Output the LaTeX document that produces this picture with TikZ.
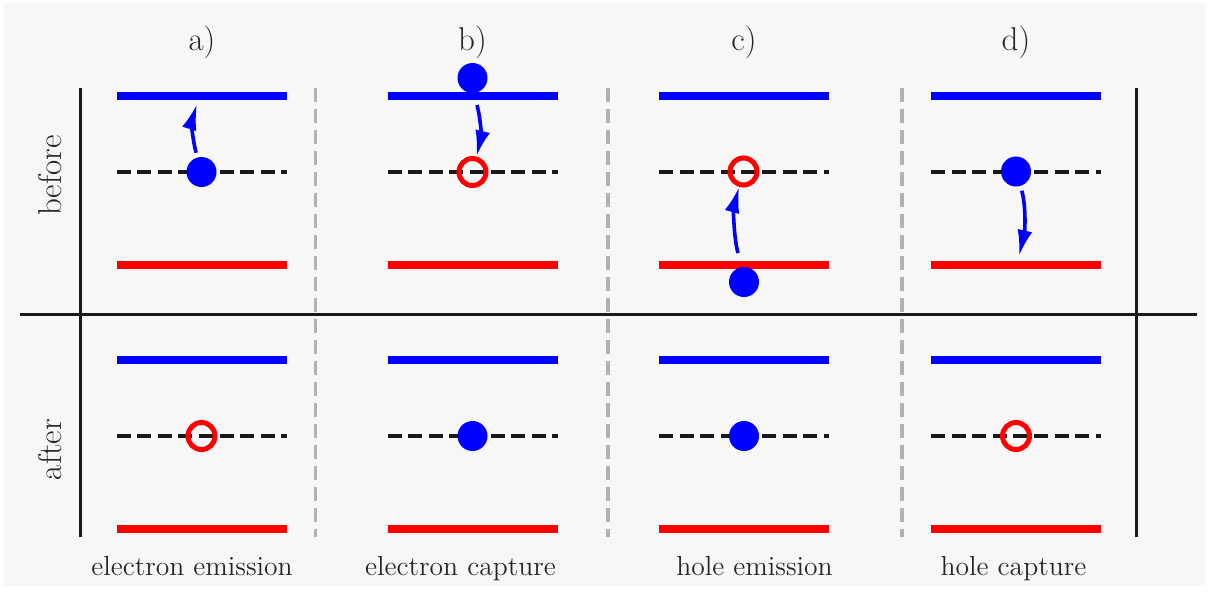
\documentclass[tikz,border=0pt]{standalone}
\usetikzlibrary{arrows.meta}
\definecolor{paper}{RGB}{247,247,247}

\begin{document}
\begin{tikzpicture}[
  x=0.5pt, y=-0.5pt,
  big/.style={font=\fontsize{16.5}{20}\selectfont, text=black!85},
  small/.style={font=\fontsize{13.8}{16}\selectfont, text=black!85},
  cband/.style={draw=blue, line width=4pt},
  vband/.style={draw=red, line width=3.7pt},
  trap/.style={draw=black!90, line width=2.2pt, dash pattern=on 7pt off 3.3pt},
  elec/.style={circle, fill=blue, minimum size=15pt, inner sep=0pt, outer sep=0pt},
  hole/.style={circle, draw=red, line width=2.5pt, minimum size=13.5pt, inner sep=0pt},
  hop/.style={-{Latex[length=13pt, width=7.5pt]}, draw=blue, line width=1.8pt},
  axis/.style={draw=black!90, line width=1.5pt},
  sep/.style={draw=black!30, line width=1.75pt, dash pattern=on 7pt off 3.5pt}
]
  \useasboundingbox (0,0) rectangle (1209,596);
  \fill[paper] (4,3) rectangle (1206,586);

  % frame
  \draw[axis] (20,314) -- (1197,314);
  \draw[axis] (80,88) -- (80,537);
  \draw[axis] (1136,88) -- (1136,537);
  \draw[sep] (315.5,88) -- (315.5,537);
  \draw[sep] (608,88) -- (608,537);
  \draw[sep] (902,88) -- (902,537);

  % levels
  \foreach \cx in {201.5,472.5,744,1016} {
    \foreach \dy in {0,264} {
      \draw[cband] ({\cx-85},{96+\dy}) -- ({\cx+85},{96+\dy});
      \draw[trap] ({\cx-85},{172+\dy}) -- ({\cx+85},{172+\dy});
      \draw[vband] ({\cx-85},{265+\dy}) -- ({\cx+85},{265+\dy});
    }
  }

  \node[big, anchor=base] (lab-a) at (202,50) {a)};
  \node[big, anchor=base] (lab-b) at (472.5,50) {b)};
  \node[big, anchor=base] (lab-c) at (744,50) {c)};
  \node[big, anchor=base] (lab-d) at (1016,50) {d)};
  \node[big, rotate=90, anchor=base] (row-before) at (61,175.5) {before};
  \node[big, rotate=90, anchor=base] (row-after) at (61,449.5) {after};

  \node[small, anchor=base] (cap-a) at (192,575) {electron emission};
  \node[small, anchor=base] (cap-b) at (460.5,575) {electron capture};
  \node[small, anchor=base] (cap-c) at (754.5,575) {hole emission};
  \node[small, anchor=base] (cap-d) at (1013.5,575) {hole capture};

  % before
  \node[elec] (a-e) at (201.5,172) {};
  \node[elec] (b-e) at (472.5,78) {};
  \node[hole] (b-h) at (472.5,172) {};
  \node[hole] (c-h) at (743.5,171.5) {};
  \node[elec] (c-e) at (744,282) {};
  \node[elec] (d-e) at (1016,171.5) {};

  % after
  \node[hole] (a-h2) at (201.5,436) {};
  \node[elec] (b-e2) at (472.5,436) {};
  \node[elec] (c-e2) at (744,436) {};
  \node[hole] (d-h2) at (1016,436) {};

  % transitions
  \coordinate (a-to) at (197,104);
  \coordinate (b-from) at (477,105);
  \coordinate (c-from) at (738,253);
  \coordinate (d-to) at (1019,256);
  \draw[hop, shorten <=2.5pt] (a-e) .. controls (192,138) and (192,120) .. (a-to);
  \draw[hop] (b-from) .. controls (481,120) and (481,138) .. (b-h);
  \draw[hop] (c-from) .. controls (733,235) and (734,205) .. (c-h);
  \draw[hop, shorten <=2.5pt] (d-e) .. controls (1026,205) and (1025,230) .. (d-to);
\end{tikzpicture}
\end{document}
